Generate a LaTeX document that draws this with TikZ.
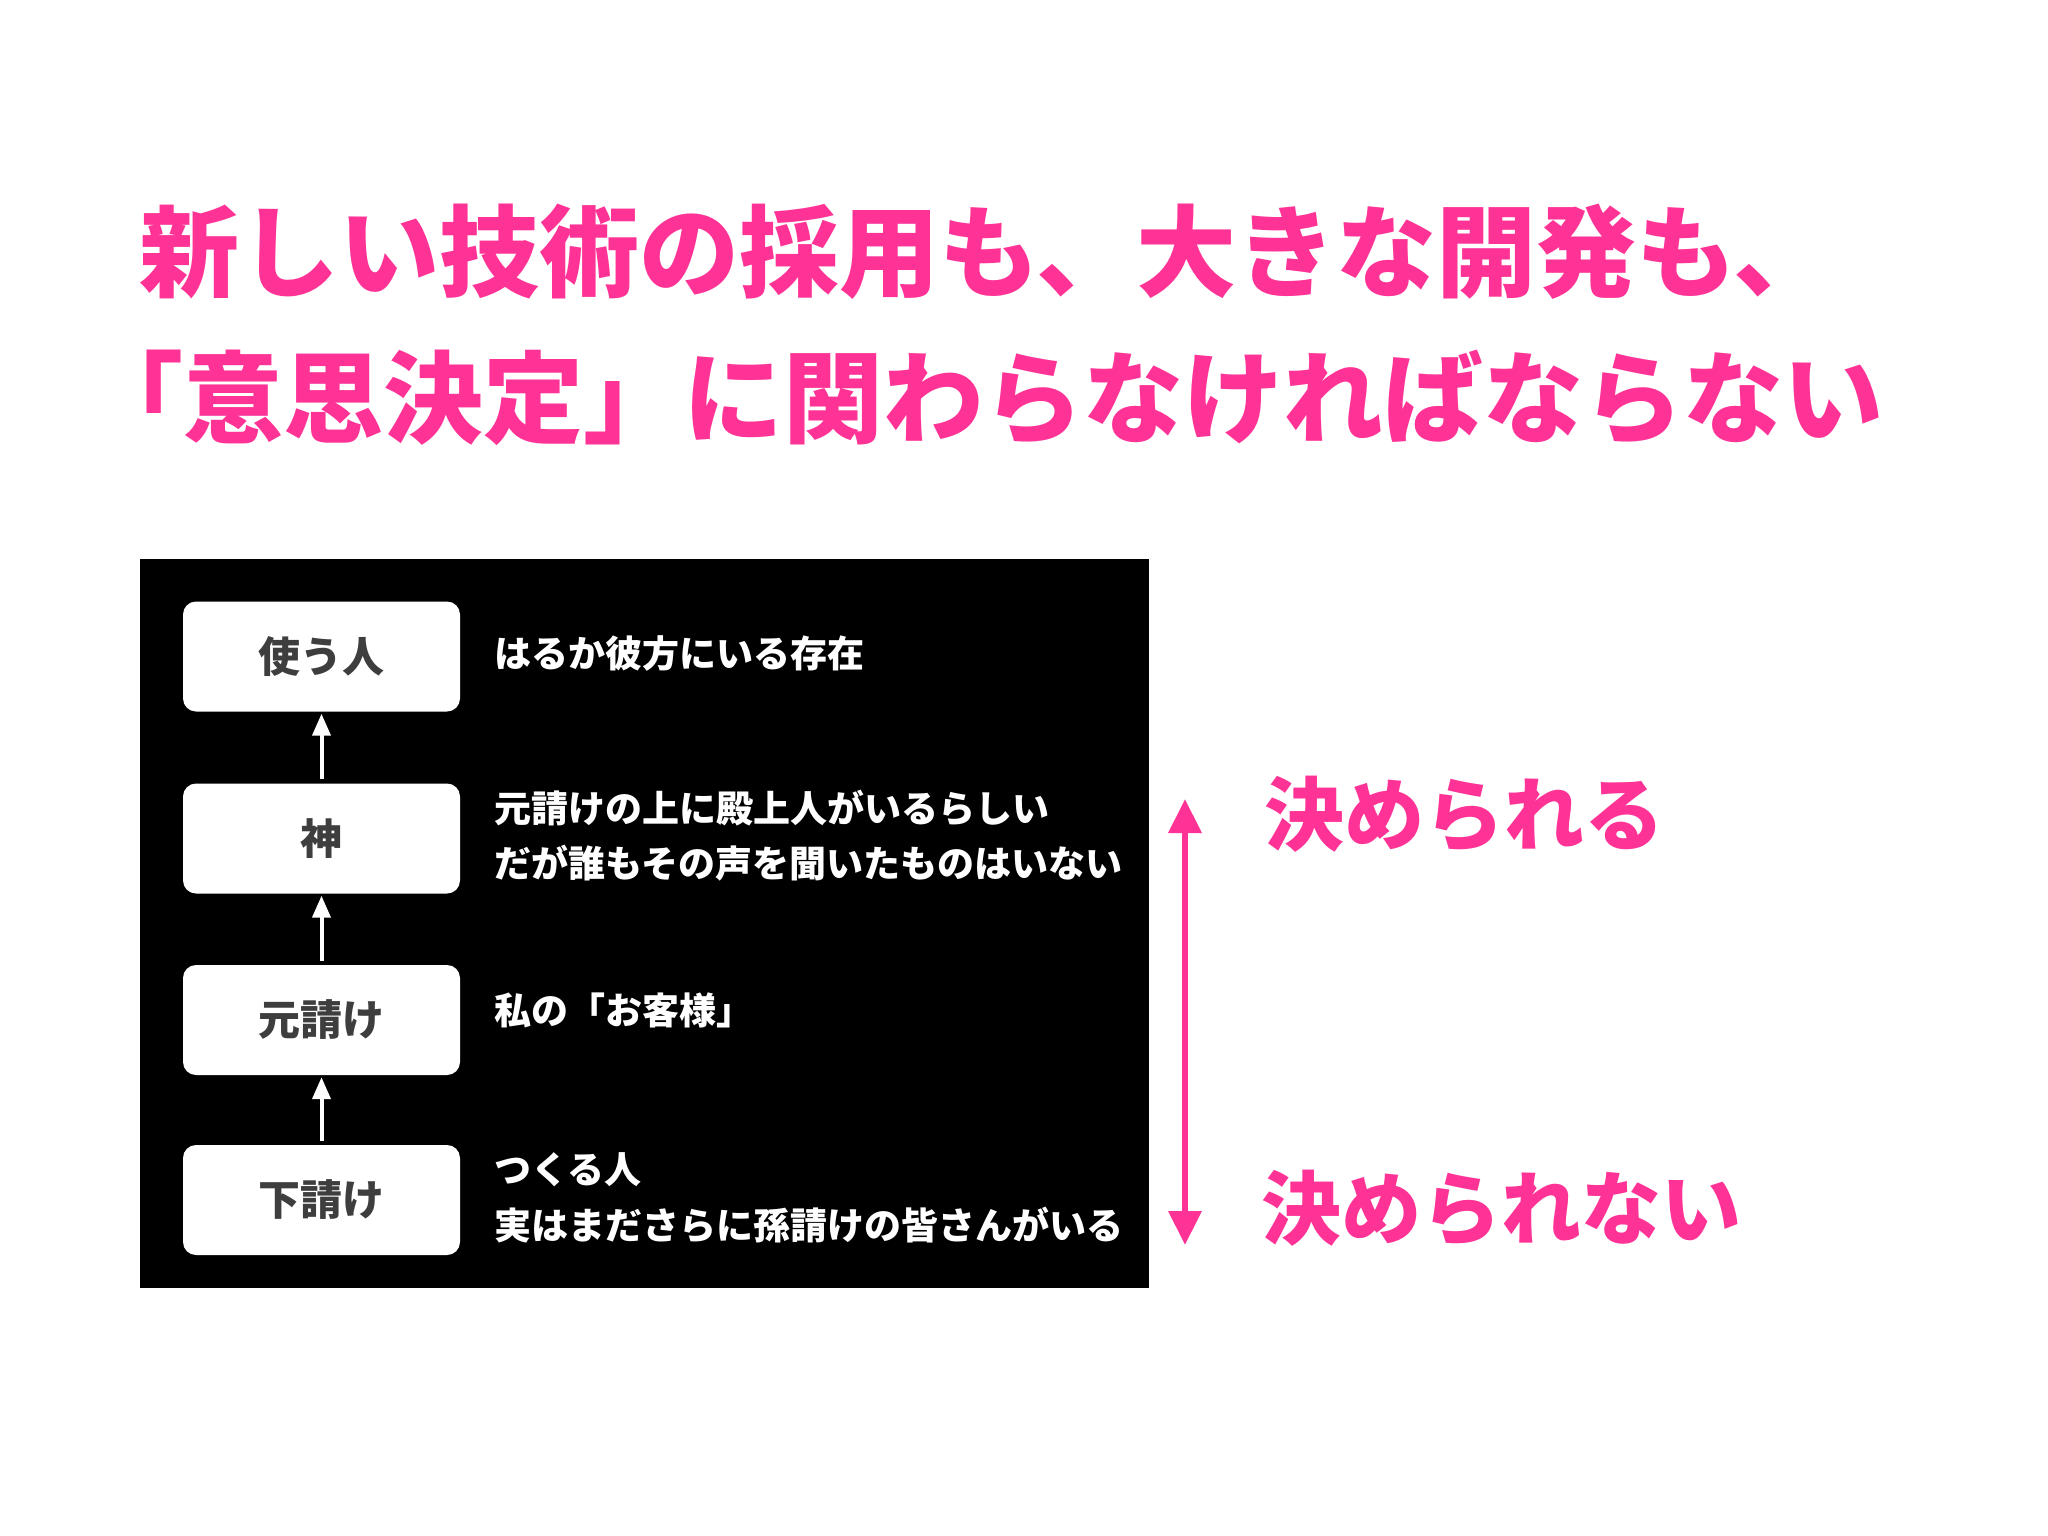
\documentclass[tikz,border=0pt]{standalone}
\usepackage{fontspec}
\newfontfamily\jp{Noto Sans CJK JP}
\usetikzlibrary{arrows.meta}
\definecolor{hotpink}{RGB}{255,51,150}
\definecolor{boxtext}{RGB}{62,62,62}
\tikzset{
  titletext/.style={anchor=west, inner sep=0pt, text=hotpink, font=\jp\bfseries\fontsize{100}{100}\selectfont},
  stepbox/.style={fill=white, rounded corners=13pt, minimum width=277pt, minimum height=110pt, inner sep=0pt, text=boxtext, font=\jp\bfseries\fontsize{42}{42}\selectfont},
  desc/.style={anchor=west, inner sep=0pt, text=white, font=\jp\bfseries\fontsize{37}{37}\selectfont},
  sidetext/.style={anchor=west, inner sep=0pt, text=hotpink, font=\jp\bfseries\fontsize{80}{80}\selectfont},
  wharrow/.style={draw=white, line width=4pt, -{Triangle[width=18pt,length=22pt]}, shorten >=2pt, shorten <=4pt},
  pinkarrow/.style={draw=hotpink, line width=6.5pt, {Triangle[width=32pt,length=34pt]}-{Triangle[width=32pt,length=34pt]}}
}
\begin{document}
\begin{tikzpicture}[x=1pt,y=-1pt]
\useasboundingbox (0,0) rectangle (2048,1536);
\fill[white] (0,0) rectangle (2048,1536);

% title
\node[titletext] (t1) at (139,252) {新しい技術の採用も、大きな開発も、};
\node[titletext] (t2) at (83,398) {「意思決定」に関わらなければならない};

% black panel
\node[fill=black, minimum width=1009pt, minimum height=729pt, inner sep=0pt, anchor=north west] (panel) at (140,559) {};

% boxes
\node[stepbox] (use) at (321.5,656.5) {使う人};
\node[stepbox] (god) at (321.5,838.5) {神};
\node[stepbox] (prime) at (321.5,1020) {元請け};
\node[stepbox] (sub) at (321.5,1200) {下請け};

% arrows
\draw[wharrow] (god.north) -- (use.south);
\draw[wharrow] (prime.north) -- (god.south);
\draw[wharrow] (sub.north) -- (prime.south);

% descriptions
\node[desc] (d1) at (494,653) {はるか彼方にいる存在};
\node[desc] (d2a) at (494,808) {元請けの上に殿上人がいるらしい};
\node[desc] (d2b) at (494,863) {だが誰もその声を聞いたものはいない};
\node[desc] (d3) at (494,1010) {私の「お客様」};
\node[desc] (d4a) at (494,1170) {つくる人};
\node[desc] (d4b) at (494,1225) {実はまださらに孫請けの皆さんがいる};

% pink arrow
\coordinate (ptop) at (1185,799);
\coordinate (pbot) at (1185,1245);
\draw[pinkarrow] (ptop) -- (pbot);

\node[sidetext] (can) at (1264,814) {決められる};
\node[sidetext] (cannot) at (1261,1208) {決められない};
\end{tikzpicture}
\end{document}
